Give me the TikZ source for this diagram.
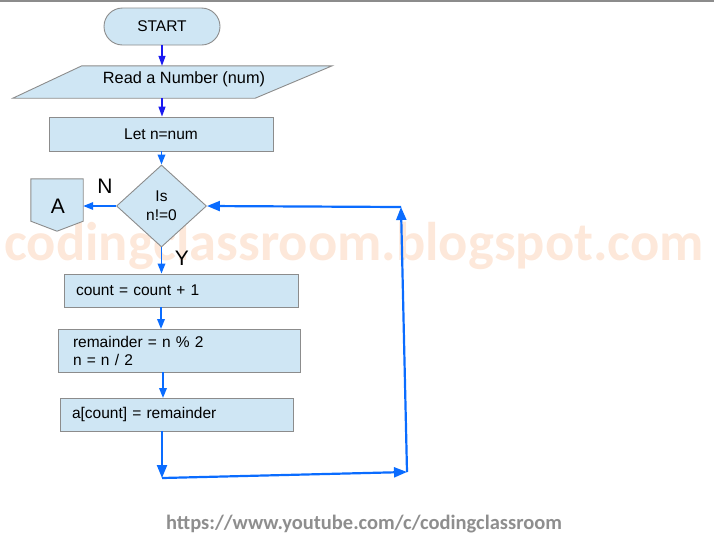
\documentclass[tikz,border=0pt]{standalone}
\usepackage{fontspec}
\setmainfont{Liberation Sans}
\newfontfamily\wmfont{Carlito}
\usepackage{xcolor}
\usetikzlibrary{positioning,arrows.meta,shapes.geometric}

\definecolor{boxfill}{HTML}{CFE6F4}
\definecolor{boxline}{HTML}{8C8C8C}
\definecolor{darkflow}{HTML}{1A1AF0}
\definecolor{flowblue}{HTML}{0A6CFF}
\definecolor{wmpeach}{HTML}{FDE8DA}
\definecolor{urlgray}{HTML}{8E8E8E}

\begin{document}
\begin{tikzpicture}[
  x=1pt, y=1pt,
  font=\fontsize{15.5}{18}\selectfont,
  box/.style={draw=boxline, fill=boxfill, line width=0.9pt},
  process/.style={box, rectangle, inner ysep=0pt, align=left},
  topflow/.style={-{Triangle[length=10pt,width=7pt]}, darkflow, line width=1.3pt},
  flow/.style={-{Triangle[length=10pt,width=7.5pt]}, flowblue, line width=1.8pt},
  loopflow/.style={-{Triangle[length=13pt,width=10pt]}, flowblue, line width=2.2pt},
  bigletter/.style={font=\fontsize{21}{21}\selectfont}
]
\useasboundingbox (0,0) rectangle (714,-539);
\draw[boxline, line width=1.6pt] (0,-0.8) -- (714,-0.8);

% watermark
\node[anchor=base, text=wmpeach, font=\wmfont\bfseries\fontsize{54.5}{54.5}\selectfont, inner sep=0] (mark) at (354,-260) {codingclassroom.blogspot.com};

% main column
\node[box, rectangle, rounded corners=18.5pt, minimum width=116pt, minimum height=37pt] (start) at (162,-26.5) {START};
\node[rectangle, minimum width=319pt, minimum height=32pt, inner sep=0pt] (read) at (172.5,-82) {};
\draw[box] ([xshift=69pt]read.north west) -- (read.north east)
  -- ([xshift=-77pt]read.south east) -- (read.south west) -- cycle;
\node[font=\fontsize{16.3}{18}\selectfont] (readtxt) at ([xshift=11.5pt,yshift=3pt]read.center) {Read a Number (num)};
\node[box, rectangle, minimum width=224pt, minimum height=34pt] (let) at (161,-134) {Let n=num};
\node[box, diamond, aspect=1.1, minimum width=90pt, minimum height=82pt, inner sep=0pt, align=center,
  font=\fontsize{15.5}{19}\selectfont] (check) at (161.5,-206) {Is\\n!=0};

% off-page connector A
\node[rectangle, minimum width=52pt, minimum height=42pt, inner sep=0pt] (conn) at (57,-200) {};
\draw[box] (conn.north west) -- (conn.north east) -- (conn.south east)
  -- ([yshift=-10pt]conn.south) -- (conn.south west) -- cycle;
\node[bigletter] (lblA) at (58,-206) {A};

% loop body
\node[process, text width=210pt, inner xsep=12pt, minimum height=33pt] (count) at (181,-290.5) {count = count + 1};
\node[process, text width=212pt, inner xsep=15pt, minimum height=43pt] (rem) at (179,-350.5) {remainder = n \% 2\\n = n / 2};
\node[process, text width=209pt, inner xsep=12pt, minimum height=33pt] (store) at (176.5,-414.5) {a[count] = remainder};

\node[bigletter] (lblN) at (105,-186) {N};
\node[bigletter] (lblY) at (182,-258) {Y};

% return path
\coordinate (down) at (162,-478);
\coordinate (right) at (407,-472);
\coordinate (up) at (401,-207);

\draw[topflow] (start.south) -- (start.south |- read.north);
\draw[topflow] ([xshift=-10.5pt]read.south) -- ([xshift=-10.5pt]read.south |- let.north);
\draw[flow] (161.5,-151) -- (check.north);
\draw[flow] (check.west) -- (check.west -| conn.east);
\draw[flow] (check.south) -- (check.south |- count.north);
\draw[flow] (161,-307) -- (161,-329);
\draw[flow] (163,-372) -- (163,-398);

\draw[loopflow] (down |- store.south) -- (down);
\draw[loopflow] (down) -- (right);
\draw[loopflow] (right) -- (up);
\draw[loopflow] (up) -- (check.east);

% channel link
\node[anchor=base, text=urlgray, font=\wmfont\bfseries\fontsize{20.5}{20.5}\selectfont, inner sep=0] (url) at (364,-529) {https://www.youtube.com/c/codingclassroom};
\end{tikzpicture}
\end{document}
